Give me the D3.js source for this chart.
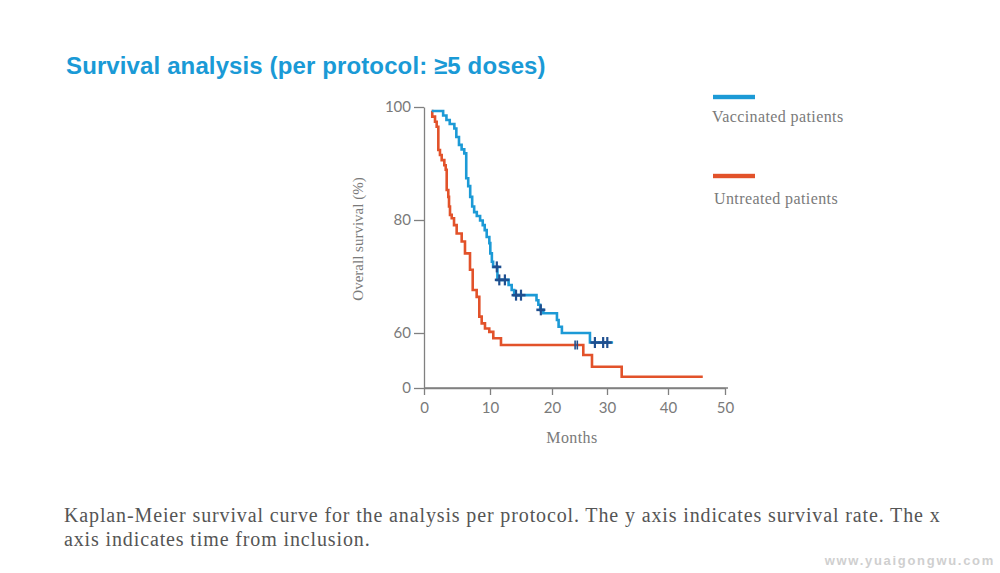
<!DOCTYPE html>
<html><head><meta charset="utf-8">
<script src="https://cdn.jsdelivr.net/npm/d3@7"></script>
<style>body{margin:0;background:#fff}svg{display:block}</style>
</head><body>
<svg id="c" width="1000" height="573"></svg>
<script>
const title = "Survival analysis (per protocol: \u22655 doses)";
const seriesNames = ["Vaccinated patients", "Untreated patients"];
const vacTime = [1.17, 2.9, 3.4, 3.9, 4.6, 4.9, 5.3, 5.7, 6.1, 6.4, 6.7, 7.0, 7.3, 7.6, 8.0, 8.5, 8.9, 9.2, 9.5, 9.9, 10.05, 10.3, 10.5, 11.2, 13.0, 13.5, 13.9, 17.5, 17.8, 18.1, 18.6, 20.9, 21.2, 21.8, 26.9];
const vacSurv = [99.3, 98.5, 97.7, 97.0, 96.2, 94.7, 93.3, 92.5, 91.8, 87.4, 86.0, 84.1, 82.4, 81.4, 80.7, 79.9, 79.1, 78.2, 77.0, 75.9, 74.1, 72.6, 71.7, 69.4, 68.5, 67.6, 66.7, 65.8, 65.0, 64.1, 63.5, 62.3, 61.1, 60.0, 49.6];
const vacEnd = 31.0;
const vacCensor = [11.1, 11.5, 12.4, 14.2, 15.0, 18.2, 27.8, 29.3, 30.05];
const untTime = [1.17, 1.25, 1.67, 1.92, 2.17, 2.42, 2.68, 3.08, 3.29, 3.44, 3.68, 3.79, 3.94, 4.20, 4.55, 4.95, 5.71, 6.21, 6.97, 7.38, 7.98, 8.38, 8.74, 9.24, 9.89, 10.53, 11.77, 25.69, 27.27, 32.41];
const untSurv = [99.3, 98.3, 97.4, 96.5, 92.4, 91.5, 90.6, 89.7, 88.9, 85.3, 84.1, 82.4, 80.9, 80.3, 79.1, 77.6, 76.2, 74.1, 71.2, 67.6, 66.4, 62.9, 61.7, 60.8, 60.2, 54.2, 46.9, 36.0, 23.2, 12.3];
const untEnd = 46.1;
const untCensor = [24.2, 24.6];
const xTickValues = [0, 10, 20, 30, 40, 50];
const yTickValues = [0, 60, 80, 100];
const xLabel = "Months";
const yLabel = "Overall survival (%)";
const captionLines = [
  "Kaplan-Meier survival curve for the analysis per protocol. The y axis indicates survival rate. The x",
  "axis indicates time from inclusion."
];
const watermark = "www.yuaigongwu.com";

const BLUE = "#1c9ad6", RED = "#e2522a", DARK = "#1f4f8f", GREY = "#808080";
const svg = d3.select("#c");

const x = d3.scaleLinear().domain(xTickValues).range([424, 490, 552, 607, 668, 725]);
const y = d3.scaleLinear().domain([0, 60, 80, 100]).range([388, 333, 220, 107]);

// title
svg.append("text").attr("x", 66).attr("y", 74)
  .attr("font-family", "Liberation Sans, Arial, sans-serif").attr("font-weight", "bold")
  .attr("font-size", 24).attr("letter-spacing", 0.12).attr("fill", "#1a9ad6").text(title);

// axes
const xAxis = svg.append("g").attr("transform", "translate(0,388)")
  .call(d3.axisBottom(x).tickValues(xTickValues).tickSize(7).tickSizeOuter(0).tickPadding(7));
const yAxis = svg.append("g").attr("transform", "translate(424,0)")
  .call(d3.axisLeft(y).tickValues(yTickValues).tickSize(10).tickSizeOuter(0).tickPadding(3));
[xAxis, yAxis].forEach(g => {
  g.selectAll("path,line").attr("stroke", GREY).attr("stroke-width", 1.3);
  g.selectAll("text").attr("fill", "#7a7a7a").attr("font-family", "Lato, sans-serif")
    .attr("font-size", 15);
});
svg.append("line").attr("x1", x(0)).attr("x2", x(50) + 3).attr("y1", 388).attr("y2", 388)
  .attr("stroke", GREY).attr("stroke-width", 1.3);

svg.append("text").attr("x", 572).attr("y", 443).attr("text-anchor", "middle")
  .attr("font-family", "Liberation Serif, serif").attr("font-size", 16).attr("letter-spacing", 0.4)
  .attr("fill", "#7a7a7a").text(xLabel);
svg.append("text").attr("transform", "translate(363,239) rotate(-90)").attr("text-anchor", "middle")
  .attr("font-family", "Liberation Serif, serif").attr("font-size", 15).attr("fill", "#7a7a7a").text(yLabel);

// curves
function stepPts(t, s, end) {
  const pts = t.map((d, i) => [d, s[i]]);
  pts.push([end, s[s.length - 1]]);
  return pts;
}
function valAt(t, s, c) {
  let v = s[0];
  t.forEach((d, i) => { if (d <= c) v = s[i]; });
  return v;
}
const line = d3.line().x(d => x(d[0])).y(d => y(d[1])).curve(d3.curveStepAfter);
svg.append("path").attr("d", line(stepPts(untTime, untSurv, untEnd)))
  .attr("fill", "none").attr("stroke", RED).attr("stroke-width", 2.6);
svg.append("path").attr("d", line(stepPts(vacTime, vacSurv, vacEnd)))
  .attr("fill", "none").attr("stroke", BLUE).attr("stroke-width", 2.6);

// censor marks
vacCensor.forEach(c => {
  const cx = x(c), cy = y(valAt(vacTime, vacSurv, c));
  svg.append("line").attr("x1", cx).attr("x2", cx).attr("y1", cy - 5.5).attr("y2", cy + 5.5)
    .attr("stroke", DARK).attr("stroke-width", 2.2);
  svg.append("line").attr("x1", cx - 4.5).attr("x2", cx + 4.5).attr("y1", cy).attr("y2", cy)
    .attr("stroke", DARK).attr("stroke-width", 2.6);
});
untCensor.forEach(c => {
  const cx = x(c), cy = y(valAt(untTime, untSurv, c));
  svg.append("line").attr("x1", cx).attr("x2", cx).attr("y1", cy - 4.5).attr("y2", cy + 4.5)
    .attr("stroke", DARK).attr("stroke-width", 1.6);
});

// legend
const leg = [{name: seriesNames[0], color: BLUE, y: 97, ty: 122, tx: 712},
             {name: seriesNames[1], color: RED, y: 176, ty: 204, tx: 714}];
leg.forEach(l => {
  svg.append("rect").attr("x", 713).attr("y", l.y - 2.2).attr("width", 42).attr("height", 4.4).attr("fill", l.color);
  svg.append("text").attr("x", l.tx).attr("y", l.ty).attr("font-family", "Liberation Serif, serif")
    .attr("font-size", 16).attr("letter-spacing", 0.4).attr("fill", "#7a7a7a").text(l.name);
});

// caption: fit first line to the reference width
const capNodes = captionLines.map((t, i) => svg.append("text").attr("x", 64).attr("y", 522 + i * 24)
  .attr("font-family", "Liberation Serif, serif").attr("font-size", 20).attr("fill", "#555").text(t));
const w0 = capNodes[0].node().getComputedTextLength();
const ls = Math.max(0, (876 - w0) / (captionLines[0].length - 1));
capNodes.forEach(n => n.attr("letter-spacing", ls.toFixed(2)));

svg.append("text").attr("x", 995).attr("y", 565).attr("text-anchor", "end")
  .attr("font-family", "Liberation Sans, sans-serif").attr("font-weight", "bold").attr("font-size", 13)
  .attr("letter-spacing", 1.7).attr("fill", "#cfcfcf").text(watermark);
</script>
</body></html>
